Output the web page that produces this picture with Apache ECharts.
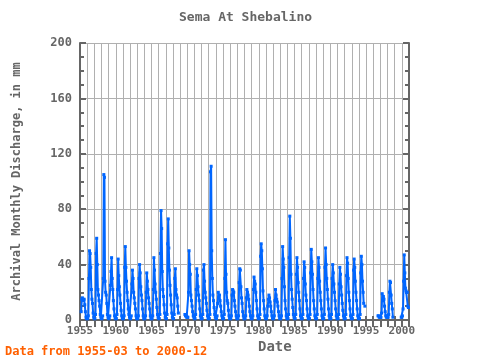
<!DOCTYPE html>
<html lang="en">
  <head>
    <meta charset="UTF-8" />
    <title>Sema At Shebalino</title>
    <style>
      html, body { margin: 0; padding: 0; background: #fff; }
      #main { width: 480px; height: 360px; }
    </style>
  </head>
  <body>
    <div id="main"></div>
    <script src="https://cdn.jsdelivr.net/npm/echarts@6/dist/echarts.min.js"></script>
    <script>
      // monthly discharge (mm); null = no data
      // 1955-03 .. 1959-12
      const flow1955 = [
        6, 15, 16, 15, 14, 15, 11, 6, 2, 1,
        1, 1, 3, 30, 50, 48, 38, 22, 15, 12, 5, 2,
        1, 1, 4, 48, 59, 40, 22, 18, 14, 10, 4, 2,
        1, 1, 3, 30, 105, 103, 28, 20, 18, 12, 4, 2,
        1, 1, 3, 25, 35, 45, 30, 22, 14, 8, 3, 1
      ];
      // 1960-01 .. 1969-12
      const flow1960 = [
        1, 1, 4, 22, 44, 32, 24, 18, 12, 7, 3, 1,
        1, 1, 3, 38, 53, 38, 28, 20, 14, 8, 4, 2,
        1, 1, 3, 26, 36, 30, 20, 16, 12, 8, 3, 1,
        1, 1, 3, 30, 40, 34, 24, 18, 14, 8, 3, 1,
        1, 1, 3, 20, 34, 28, 22, 16, 12, 8, 3, 1,
        1, 1, 3, 22, 45, 36, 26, 20, 15, 9, 4, 2,
        1, 1, 4, 48, 79, 66, 35, 22, 17, 11, 5, 2,
        1, 1, 4, 55, 73, 52, 36, 25, 18, 11, 5, 2,
        1, 1, 4, 30, 37, 22, 18, 16, 10, 5, null, null,
        null, null, null, null, null, null, null, null, 4, 3, 3, 2
      ];
      // 1970-01 .. 1979-12
      const flow1970 = [
        2, 2, 20, 50, 40, 33, 18, 14, 10, 6, 3, 2,
        1, 1, 4, 22, 37, 32, 24, 18, 14, 8, 3, 1,
        1, 1, 4, 36, 40, 28, 20, 16, 12, 7, 3, 1,
        1, 1, 4, 107, 111, 50, 30, 18, 14, 9, 4, 2,
        1, 1, 3, 12, 20, 16, 18, 14, 10, 6, 3, 1,
        1, 1, 4, 30, 58, 33, 20, 14, 12, 7, 3, 1,
        1, 1, 3, 18, 22, 21, 20, 14, 10, 6, 3, 1,
        1, 1, 3, 27, 37, 36, 24, 16, 12, 6, 3, 1,
        1, 1, 3, 16, 22, 20, 18, 15, 10, 6, 3, 1,
        1, 1, 3, 22, 31, 28, 26, 20, 14, 8, 3, 1
      ];
      // 1980-01 .. 1989-12
      const flow1980 = [
        1, 1, 4, 46, 55, 50, 37, 21, 14, 8, 3, 1,
        1, 1, 3, 10, 15, 18, 16, 13, 10, 6, 3, 1,
        1, 1, 3, 14, 22, 18, 15, 13, 10, 6, 3, 1,
        1, 1, 3, 30, 53, 44, 38, 24, 14, 8, 3, 1,
        1, 1, 4, 45, 75, 59, 33, 22, 15, 9, 4, 2,
        1, 1, 4, 33, 45, 38, 27, 20, 14, 8, 3, 1,
        1, 1, 4, 30, 42, 38, 26, 18, 14, 8, 3, 1,
        1, 1, 4, 34, 51, 42, 33, 22, 14, 8, 3, 1,
        1, 1, 4, 30, 45, 38, 28, 20, 14, 8, 3, 1,
        1, 1, 4, 38, 52, 40, 30, 22, 15, 8, 3, 1
      ];
      // 1990-01 .. 1999-12
      const flow1990 = [
        1, 1, 4, 30, 40, 34, 26, 20, 14, 8, 3, 1,
        1, 1, 4, 26, 38, 33, 24, 18, 12, 7, 3, 1,
        1, 1, 4, 32, 45, 41, 30, 20, 14, 8, 3, 1,
        1, 1, 4, 36, 44, 38, 28, 20, 14, 8, 3, 1,
        1, 1, 4, 34, 46, 40, 28, 20, 12, null, 10, null,
        null, null, null, null, null, null, null, null, null, null, null, null,
        null, null, null, null, null, null, null, null, 3, 3, 2, 2,
        2, 2, 5, 19, 14, 17, 15, 10, 6, 3, 2, 2,
        2, 2, 4, 20, 28, 27, 18, 12, 8, 2, null, null,
        null, null, null, null, null, null, null, null, null, null, null, 2
      ];
      // 2000-01 .. 2000-12
      const flow2000 = [2, 3, 8, 28, 47, 34, 23, 21, 20, 20, 10, 9];

      const blocks = [
        [flow1955, 1955, 3],
        [flow1960, 1960, 1],
        [flow1970, 1970, 1],
        [flow1980, 1980, 1],
        [flow1990, 1990, 1],
        [flow2000, 2000, 1]
      ];

      // date as decimal year for the value axis
      const points = [];
      blocks.forEach(([vals, y0, m0]) => {
        vals.forEach((v, i) => {
          points.push([y0 + (m0 - 1 + i) / 12, v]);
        });
      });

      const grey = "#666666";
      const mono = "DejaVu Sans Mono";

      const myChart = echarts.init(document.getElementById("main"));

      const xBase = {
        type: "value",
        min: 1955,
        max: 2001,
        interval: 1,
        axisLine: { show: true, lineStyle: { color: grey, width: 2 } },
        splitLine: { show: false },
      };
      const yBase = {
        type: "value",
        min: 0,
        max: 200,
        interval: 40,
        axisLine: { show: true, lineStyle: { color: grey, width: 2 } },
        axisTick: { show: true, inside: true, length: 6, lineStyle: { color: grey, width: 2 } },
        minorTick: { show: true, splitNumber: 4, length: 4, lineStyle: { color: grey, width: 2 } },
      };

      myChart.setOption({
        animation: false,
        backgroundColor: "#ffffff",
        grid: { left: 80, right: 71, top: 43, bottom: 40 },
        graphic: [
          {
            type: "text",
            left: 247 - 68,
            top: 11,
            style: { text: "Sema At Shebalino", fill: grey, font: "bold 13px " + mono },
          },
          {
            type: "text",
            left: 258,
            top: 340,
            style: { text: "Date", fill: grey, font: "bold 14px " + mono },
          },
          {
            type: "text",
            left: 5,
            top: 346,
            style: { text: "Data from 1955-03 to 2000-12", fill: "#ff6000", font: "bold 12px " + mono },
          },
        ],
        xAxis: [
          Object.assign({}, xBase, {
            position: "bottom",
            axisTick: { show: true, inside: true, length: 4, lineStyle: { color: grey, width: 2 } },
            axisLabel: {
              color: grey,
              fontFamily: mono,
              fontSize: 11,
              fontWeight: "bold",
              margin: 6,
              formatter: (v) => (v % 5 === 0 && v < 2001 ? String(v) : ""),
            },
            splitLine: { show: true, lineStyle: { color: "#b0b0b0", width: 1 } },
          }),
          Object.assign({}, xBase, {
            position: "top",
            axisTick: { show: true, inside: true, length: 7, lineStyle: { color: grey, width: 2 } },
            axisLabel: { show: false },
          }),
        ],
        yAxis: [
          Object.assign({}, yBase, {
            position: "left",
            name: "Archival Monthly Discharge, in mm",
            nameLocation: "middle",
            nameGap: 57,
            nameTextStyle: { color: grey, fontFamily: mono, fontSize: 12, fontWeight: "bold" },
            axisLabel: { color: grey, fontFamily: mono, fontSize: 12, fontWeight: "bold", margin: 8 },
            splitLine: { show: true, lineStyle: { color: "#b0b0b0", width: 1 } },
          }),
          Object.assign({}, yBase, {
            position: "right",
            axisLabel: { show: false },
            splitLine: { show: false },
          }),
        ],
        series: [
          {
            type: "line",
            data: points,
            xAxisIndex: 0,
            yAxisIndex: 0,
            connectNulls: false,
            showSymbol: true,
            showAllSymbol: true,
            symbol: "rect",
            symbolSize: 3,
            itemStyle: { color: "#0066ff" },
            lineStyle: { color: "#0066ff", width: 2 },
          },
        ],
      });
    </script>
  </body>
</html>
